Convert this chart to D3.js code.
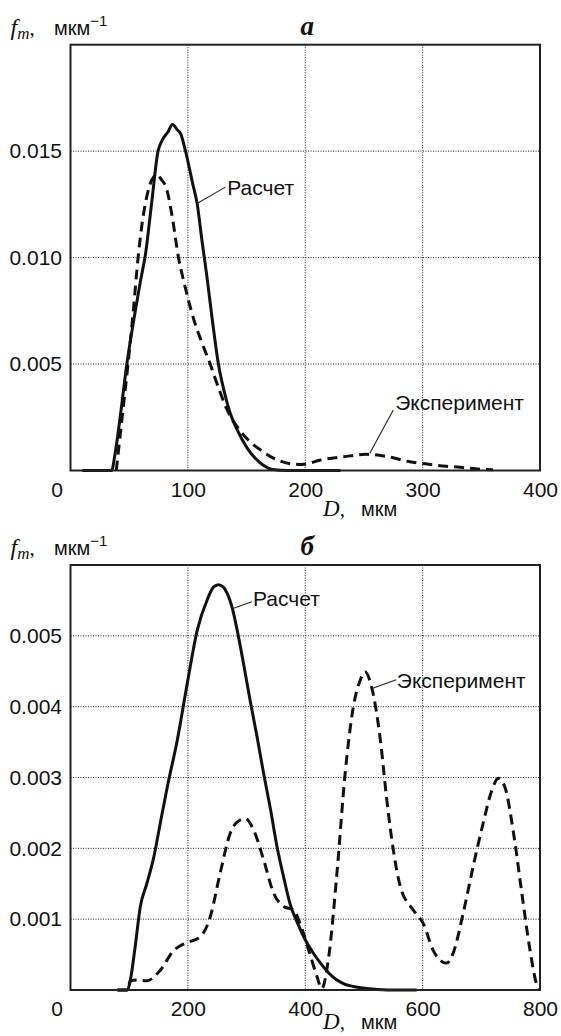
<!DOCTYPE html>
<html>
<head>
<meta charset="utf-8">
<script src="https://cdn.jsdelivr.net/npm/d3@7/dist/d3.min.js"></script>
<style>
  body { margin: 0; background: #fff; }
</style>
</head>
<body>
<div id="chart"></div>
<script>
// Panel a: D (мкм) and f_m values
var calcA_D = [10, 35, 38, 43, 48, 54, 59.6, 64, 69, 74.6, 78, 83, 87, 91, 94, 98, 104, 108, 112, 116, 121, 126, 131, 136, 143, 150, 157, 164, 172, 185, 230];
var calcA_f = [0, 0, 0.0008, 0.0028, 0.005, 0.0071, 0.0089, 0.0102, 0.0125, 0.015, 0.0155, 0.0159, 0.01625, 0.0160, 0.0158, 0.015, 0.0135, 0.0125, 0.0108, 0.0092, 0.007, 0.005, 0.0037, 0.0027, 0.0018, 0.0011, 0.0006, 0.00026, 0.00005, 0, 0];

var expA_D = [39, 44, 49, 53.5, 57.6, 61, 64, 67.5, 71, 74, 77, 82, 87, 92, 96, 100, 105, 112, 119, 126, 133, 144, 152, 162, 176, 190, 197, 213, 233, 252, 270, 289, 304, 320, 332, 345, 360];
var expA_f = [0, 0.0025, 0.005, 0.0075, 0.010, 0.0116, 0.0126, 0.0134, 0.0138, 0.0139, 0.0137, 0.0132, 0.0118, 0.0100, 0.0090, 0.0081, 0.0071, 0.0060, 0.0050, 0.0039, 0.0029, 0.0019, 0.0014, 0.00096, 0.0005, 0.0003, 0.00028, 0.00049, 0.00065, 0.00076, 0.00065, 0.00041, 0.0003, 0.0002, 0.00015, 0.00008, 0.00003];

// Panel б
var calcB_D = [80, 97, 102, 110, 119, 130, 142, 154, 165, 182, 199, 216, 233, 244, 252, 260, 267, 276, 284, 295, 306, 318, 329, 341, 352, 363, 374, 387, 400, 413, 426, 440, 454, 468, 482, 505, 540, 590];
var calcB_f = [0, 0, 0.00014, 0.0006, 0.00118, 0.0015, 0.00188, 0.0024, 0.00287, 0.00353, 0.00433, 0.00508, 0.00551, 0.00569, 0.00572, 0.00569, 0.0056, 0.00538, 0.00508, 0.0046, 0.00409, 0.00357, 0.00306, 0.00254, 0.00202, 0.0016, 0.00122, 0.00094, 0.00071, 0.00053, 0.00038, 0.00024, 0.00014, 0.00008, 0.00005, 0.00002, 0, 0];

var expB_D = [80, 97, 102, 115, 130, 153, 176, 196, 221, 238, 255, 272, 289, 298, 312, 329, 346, 363, 380, 391, 406, 420, 428, 440, 454, 468, 482, 494, 502, 513, 528, 539, 550, 562, 584, 601, 618, 633, 641, 652, 669, 686, 703, 718, 729, 740, 755, 769, 783, 794, 800];
var expB_f = [0, 0, 0.00013, 0.00014, 0.00013, 0.00028, 0.00056, 0.00066, 0.00075, 0.00103, 0.00165, 0.00221, 0.0024, 0.00242, 0.00226, 0.00184, 0.00137, 0.00118, 0.00113, 0.00094, 0.00056, 0.00019, 0.00002, 0.00047, 0.00165, 0.00306, 0.004, 0.00438, 0.00449, 0.00428, 0.00353, 0.00268, 0.00198, 0.00146, 0.00113, 0.00094, 0.00056, 0.0004, 0.00038, 0.00052, 0.00108, 0.00174, 0.00235, 0.00282, 0.00299, 0.00287, 0.00221, 0.00137, 0.00056, 0.00009, 0];

// Ticks
var xTicksA = [0, 100, 200, 300, 400],
    yTicksA = [0.005, 0.010, 0.015],
    xTicksB = [0, 200, 400, 600, 800],
    yTicksB = [0.001, 0.002, 0.003, 0.004, 0.005];

// Curve labels: [text, text D, text f, leader start D, f, leader end D, f]
var labelsA = [["Расчет", 133.6, 0.01293, 132, 0.01331, 107.8, 0.01254],
               ["Эксперимент", 276.6, 0.00284, 275, 0.00284, 255, 0.00081]];
var labelsB = [["Расчет", 311, 0.00542, 309, 0.00548, 278, 0.00539],
               ["Эксперимент", 556, 0.00426, 555, 0.00438, 515, 0.00426]];

var W = 561, H = 1036,
    left = 70.5, right = 540,
    sans = "'Liberation Sans', Arial, Helvetica, sans-serif",
    serif = "'Liberation Serif', 'Times New Roman', serif",
    ink = "#111";

var svg = d3.select("#chart").append("svg")
  .attr("width", W)
  .attr("height", H);

function drawPanel(p) {
  var x = d3.scaleLinear().domain([0, p.xMax]).range([left, right]),
      y = d3.scaleLinear().domain([0, p.yMax]).range([p.bottom, p.top]);

  var g = svg.append("g");

  // dotted grid
  g.selectAll(".vgrid")
    .data(p.xTicks.slice(1, -1))
    .enter().append("line")
      .attr("x1", function(d) { return x(d); })
      .attr("x2", function(d) { return x(d); })
      .attr("y1", p.top)
      .attr("y2", p.bottom)
      .attr("stroke", "#222")
      .attr("stroke-width", 1)
      .attr("stroke-dasharray", "1,1.5");

  g.selectAll(".hgrid")
    .data(p.yTicks)
    .enter().append("line")
      .attr("x1", left)
      .attr("x2", right)
      .attr("y1", function(d) { return y(d); })
      .attr("y2", function(d) { return y(d); })
      .attr("stroke", "#222")
      .attr("stroke-width", 1)
      .attr("stroke-dasharray", "1,1.5");

  // axes (labels only)
  var xAxis = g.append("g")
    .attr("transform", "translate(0," + p.bottom + ")")
    .call(d3.axisBottom(x).tickValues(p.xTicks).tickSize(0).tickPadding(11.5).tickFormat(d3.format("d")));
  xAxis.select(".domain").remove();
  xAxis.selectAll(".tick").filter(function(d) { return d === 0; }).select("text").attr("x", -14);

  var yAxis = g.append("g")
    .attr("transform", "translate(" + left + ",0)")
    .call(d3.axisLeft(y).tickValues(p.yTicks).tickSize(0).tickPadding(8.5).tickFormat(d3.format(".3f")));
  yAxis.select(".domain").remove();

  g.selectAll(".tick text")
    .attr("font-family", sans)
    .style("font-size", "21px")
    .attr("fill", ink);

  // curves
  var line = d3.line()
    .x(function(d) { return x(d[0]); })
    .y(function(d) { return y(d[1]); })
    .curve(d3.curveMonotoneX);

  g.append("path")
    .attr("d", line(d3.zip(p.expD, p.expF)))
    .attr("fill", "none")
    .attr("stroke", ink)
    .attr("stroke-width", 3)
    .attr("stroke-dasharray", "10,6");

  g.append("path")
    .attr("d", line(d3.zip(p.calcD, p.calcF)))
    .attr("fill", "none")
    .attr("stroke", ink)
    .attr("stroke-width", 3);

  // frame
  g.append("rect")
    .attr("x", left)
    .attr("y", p.top)
    .attr("width", right - left)
    .attr("height", p.bottom - p.top)
    .attr("fill", "none")
    .attr("stroke", "#222")
    .attr("stroke-width", 2);

  // curve labels with leader lines
  p.labels.forEach(function(l) {
    g.append("line")
      .attr("x1", x(l[3])).attr("y1", y(l[4]))
      .attr("x2", x(l[5])).attr("y2", y(l[6]))
      .attr("stroke", "#222")
      .attr("stroke-width", 1.1);
    g.append("text")
      .attr("x", x(l[1]))
      .attr("y", y(l[2]))
      .attr("font-family", sans)
      .style("font-size", "21px")
      .attr("fill", ink)
      .text(l[0]);
  });

  // y title: f_m, мкм^-1
  var yt = g.append("text")
    .attr("x", 10.5)
    .attr("y", p.top - 10)
    .attr("fill", ink);
  yt.append("tspan").attr("font-family", serif).attr("font-style", "italic").style("font-size", "24px").text("f");
  yt.append("tspan").attr("font-family", serif).attr("font-style", "italic").style("font-size", "17px").attr("dy", 4).text("m");
  yt.append("tspan").attr("font-family", serif).style("font-size", "21px").attr("dy", -4).text(",");
  yt.append("tspan").attr("font-family", sans).style("font-size", "20px").attr("x", 54).text("мкм");
  yt.append("tspan").attr("font-family", sans).style("font-size", "15px").attr("dy", -9).text("−1");

  // panel letter
  g.append("text")
    .attr("x", (left + right) / 2 + 2)
    .attr("y", p.top - 10)
    .attr("text-anchor", "middle")
    .attr("font-family", serif)
    .attr("font-style", "italic")
    .attr("font-weight", "bold")
    .style("font-size", "27px")
    .attr("fill", ink)
    .text(p.letter);

  // x title: D, мкм
  var xt = g.append("text")
    .attr("x", 323)
    .attr("y", p.bottom + p.xTitleGap)
    .attr("fill", ink);
  xt.append("tspan").attr("font-family", serif).attr("font-style", "italic").style("font-size", "23px").text("D");
  xt.append("tspan").attr("font-family", serif).style("font-size", "21px").text(",");
  xt.append("tspan").attr("font-family", sans).style("font-size", "20px").attr("x", 361).text("мкм");
}

drawPanel({top: 44.7, bottom: 470.5, xMax: 400, yMax: 0.02, letter: "a", xTitleGap: 45,
           xTicks: xTicksA, yTicks: yTicksA,
           calcD: calcA_D, calcF: calcA_f, expD: expA_D, expF: expA_f, labels: labelsA});

drawPanel({top: 565, bottom: 990, xMax: 800, yMax: 0.006, letter: "б", xTitleGap: 39,
           xTicks: xTicksB, yTicks: yTicksB,
           calcD: calcB_D, calcF: calcB_f, expD: expB_D, expF: expB_f, labels: labelsB});
</script>
</body>
</html>
